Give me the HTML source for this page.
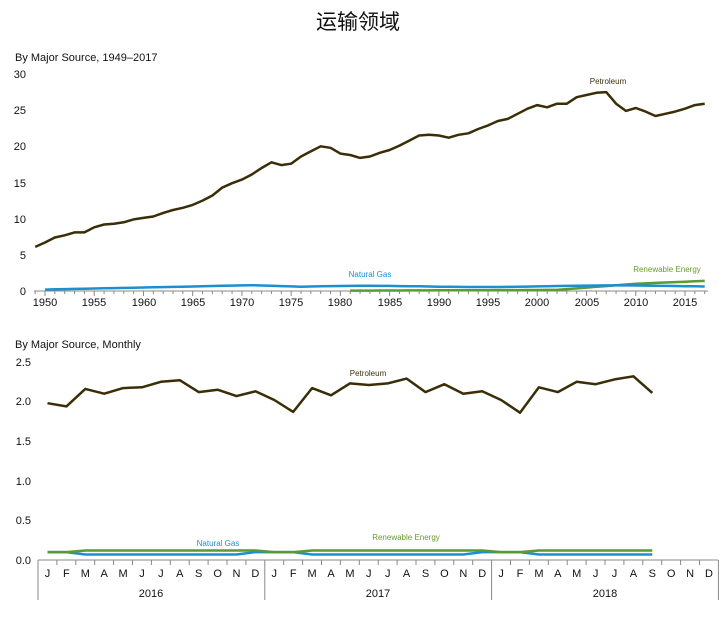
<!DOCTYPE html>
<html><head><meta charset="utf-8"><style>
body{margin:0;background:#fff;width:719px;height:612px;overflow:hidden}
svg{font-family:"Liberation Sans","Noto Sans CJK SC",sans-serif}
</style></head><body>
<svg id="s" width="719" height="612" xmlns="http://www.w3.org/2000/svg">
<text x="358" y="29" font-size="21" text-anchor="middle" fill="#111">运输领域</text>
<text x="15" y="61" font-size="11" fill="#111">By Major Source, 1949–2017</text>
<g font-size="11" fill="#111" text-anchor="end">
<text x="26" y="295">0</text><text x="26" y="259">5</text><text x="26" y="223">10</text><text x="26" y="187">15</text><text x="26" y="150">20</text><text x="26" y="114">25</text><text x="26" y="78">30</text>
</g>
<g font-size="11" fill="#111" text-anchor="middle">
<text x="45" y="306">1950</text><text x="94" y="306">1955</text><text x="144" y="306">1960</text><text x="193" y="306">1965</text><text x="242" y="306">1970</text><text x="291" y="306">1975</text><text x="340" y="306">1980</text><text x="390" y="306">1985</text><text x="439" y="306">1990</text><text x="488" y="306">1995</text><text x="537" y="306">2000</text><text x="587" y="306">2005</text><text x="636" y="306">2010</text><text x="685" y="306">2015</text>
</g>
<line x1="34" y1="291" x2="708" y2="291" stroke="#888" stroke-width="1"/>
<g id="ticks1" stroke="#888"></g>
<text x="608" y="84" font-size="8" fill="#3a2e08" text-anchor="middle">Petroleum</text>
<text x="370" y="277" font-size="8" fill="#1a90d0" text-anchor="middle">Natural Gas</text>
<text x="667" y="272" font-size="8" fill="#6a9a2a" text-anchor="middle">Renewable Energy</text>

<text x="15" y="348" font-size="11" fill="#111">By Major Source, Monthly</text>
<g font-size="11" fill="#111" text-anchor="end">
<text x="31" y="564">0.0</text><text x="31" y="524">0.5</text><text x="31" y="485">1.0</text><text x="31" y="445">1.5</text><text x="31" y="405">2.0</text><text x="31" y="366">2.5</text>
</g>
<line x1="38" y1="560" x2="718" y2="560" stroke="#888"/>
<g id="ticks2" stroke="#888"></g>
<g font-size="11" fill="#111" text-anchor="middle">
<text x="47.5" y="577">J</text><text x="66.4" y="577">F</text><text x="85.3" y="577">M</text><text x="104.2" y="577">A</text><text x="123.1" y="577">M</text><text x="142" y="577">J</text><text x="160.9" y="577">J</text><text x="179.8" y="577">A</text><text x="198.7" y="577">S</text><text x="217.6" y="577">O</text><text x="236.5" y="577">N</text><text x="255.4" y="577">D</text>
<text x="274.3" y="577">J</text><text x="293.2" y="577">F</text><text x="312.1" y="577">M</text><text x="331" y="577">A</text><text x="349.9" y="577">M</text><text x="368.8" y="577">J</text><text x="387.7" y="577">J</text><text x="406.6" y="577">A</text><text x="425.5" y="577">S</text><text x="444.4" y="577">O</text><text x="463.3" y="577">N</text><text x="482.2" y="577">D</text>
<text x="501.1" y="577">J</text><text x="520" y="577">F</text><text x="538.9" y="577">M</text><text x="557.8" y="577">A</text><text x="576.7" y="577">M</text><text x="595.6" y="577">J</text><text x="614.5" y="577">J</text><text x="633.4" y="577">A</text><text x="652.3" y="577">S</text><text x="671.2" y="577">O</text><text x="690.1" y="577">N</text><text x="709" y="577">D</text>
</g>
<g font-size="11" fill="#111" text-anchor="middle">
<text x="151" y="597">2016</text><text x="378" y="597">2017</text><text x="605" y="597">2018</text>
</g>
<text x="368" y="376" font-size="8" fill="#3a2e08" text-anchor="middle">Petroleum</text>
<text x="218" y="546" font-size="8" fill="#1a90d0" text-anchor="middle">Natural Gas</text>
<text x="406" y="540" font-size="8" fill="#6a9a2a" text-anchor="middle">Renewable Energy</text>
<g id="lines"></g>
</svg>
<script>
var NS="http://www.w3.org/2000/svg";
function el(p,t,a){var e=document.createElementNS(NS,t);for(var k in a)e.setAttribute(k,a[k]);document.getElementById(p).appendChild(e);return e;}
for(var y=1949;y<=2017;y++){var x=45+(y-1950)*9.846;el('ticks1','line',{x1:x,y1:291,x2:x,y2:(y%5==0?296:294)});}
for(var k=0;k<=36;k++){var x=38+k*18.9;el('ticks2','line',{x1:x,y1:560,x2:x,y2:(k%12==0?600:565)});}
function topLine(vals,y0,col){var p=[];vals.forEach(function(v,i){p.push((45+(y0+i-1950)*9.846).toFixed(1)+','+(291-v*7.233).toFixed(1));});el('lines','polyline',{points:p.join(' '),fill:'none',stroke:col,'stroke-width':2.5,'stroke-linejoin':'round'});}
var pet=[6.1,6.7,7.4,7.7,8.1,8.1,8.8,9.2,9.3,9.5,9.9,10.1,10.3,10.8,11.2,11.5,11.9,12.5,13.2,14.3,14.9,15.4,16.1,17.0,17.8,17.4,17.6,18.6,19.3,20.0,19.8,19.0,18.8,18.4,18.6,19.1,19.5,20.1,20.8,21.5,21.6,21.5,21.2,21.6,21.8,22.4,22.9,23.5,23.8,24.5,25.2,25.7,25.4,25.9,25.9,26.8,27.1,27.4,27.5,25.9,24.9,25.3,24.8,24.2,24.5,24.8,25.2,25.7,25.9];
var gas=[];for(var y=1950;y<=2017;y++){var v;if(y<=1971)v=0.2+0.6*(y-1950)/21;else if(y<=1976)v=0.8-0.2*(y-1971)/5;else v=0.6+0.2*Math.sin((y-1976)/4)*0.5+0.1*(y-1976)/41;gas.push(v);}
var ren=[];for(var y=1981;y<=2017;y++){ren.push(y<2002?0.05+0.1*(y-1981)/21:(y<2010?0.15+0.85*(y-2002)/8:1.0+0.4*(y-2010)/7));}
topLine(ren,1981,'#5a9a30');topLine(gas,1950,'#1a90d0');topLine(pet,1949,'#3a2e08');
function mon(vals,col){var p=[];vals.forEach(function(v,i){p.push((47.5+i*18.9).toFixed(1)+','+(560-v*79.2).toFixed(1));});el('lines','polyline',{points:p.join(' '),fill:'none',stroke:col,'stroke-width':2.5,'stroke-linejoin':'round'});}
var mp=[1.98,1.94,2.16,2.10,2.17,2.18,2.25,2.27,2.12,2.15,2.07,2.13,2.02,1.87,2.17,2.08,2.23,2.21,2.23,2.29,2.12,2.22,2.10,2.13,2.02,1.86,2.18,2.12,2.25,2.22,2.28,2.32,2.11];
var mg=[],mr=[];for(var i=0;i<33;i++){var m=i%12;mg.push((m<2||m==11)?0.1:0.07);mr.push((m<2)?0.1:0.12);}
mon(mg,'#1a90d0');mon(mr,'#5a9a30');mon(mp,'#3a2e08');
</script>
</body></html>
